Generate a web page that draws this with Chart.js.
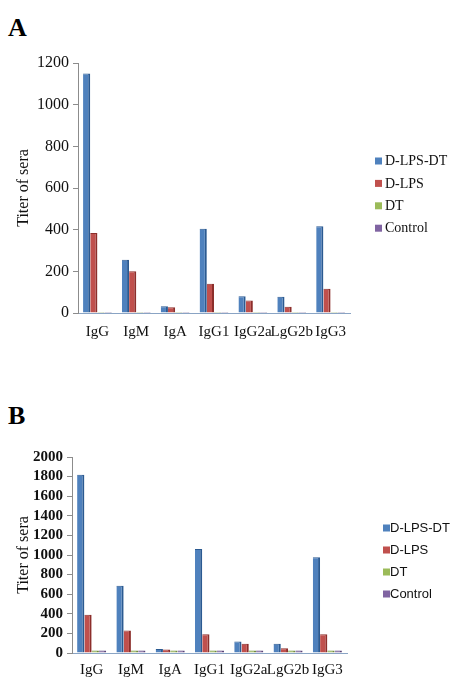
<!DOCTYPE html>
<html><head><meta charset="utf-8">
<script src="https://cdn.jsdelivr.net/npm/chart.js@4.4.0/dist/chart.umd.min.js"></script>
<style>
html,body{margin:0;padding:0;background:#fff;width:450px;height:677px;overflow:hidden;}
.panel{position:absolute;left:0;width:450px;}
.letter{position:absolute;left:8px;font-family:"Liberation Serif",serif;font-weight:bold;font-size:26px;line-height:26px;color:#000;}
</style></head><body>
<div class="letter" style="top:15px">A</div>
<div class="panel" style="top:40px;height:305px"><canvas id="cA"></canvas></div>
<div class="letter" style="top:403px">B</div>
<div class="panel" style="top:430px;height:247px"><canvas id="cB"></canvas></div>
<script>
const categories = ["IgG", "IgM", "IgA", "IgG1", "IgG2a", "LgG2b", "IgG3"];
const seriesNames = ["D-LPS-DT", "D-LPS", "DT", "Control"];

// Panel A values
const A_DLPSDT = [1150, 256, 32, 405, 80, 78, 416];
const A_DLPS   = [384, 200, 28, 140, 60, 30, 116];
const A_DT     = [5, 5, 5, 5, 5, 5, 5];
const A_Control= [5, 5, 5, 5, 5, 5, 5];
const A_ticks  = [0, 200, 400, 600, 800, 1000, 1200];

// Panel B values
const B_DLPSDT = [1820, 685, 40, 1060, 118, 95, 978];
const B_DLPS   = [390, 230, 35, 192, 95, 48, 192];
const B_DT     = [25, 25, 25, 25, 25, 25, 25];
const B_Control= [25, 25, 25, 25, 25, 25, 25];
const B_ticks  = [0, 200, 400, 600, 800, 1000, 1200, 1400, 1600, 1800, 2000];

const fills = ["#4f81bd", "#c0504d", "#9bbb59", "#8064a2"];
const edges = ["#2b5a91", "#8c2e2b", "#6f8a3c", "#5a4479"];

function makeDatasets(arrs){
  return arrs.map((d,i)=>({
    label: seriesNames[i],
    data: d,
    backgroundColor: fills[i],
    borderColor: edges[i],
    borderWidth: {top:1, right:2, left:0, bottom:0},
    borderSkipped: false,
    categoryPercentage: 0.74,
    barPercentage: 1.0
  }));
}

const sideLegend = {
  id: 'sideLegend',
  afterDraw(chart, args, o){
    const ctx = chart.ctx;
    ctx.save();
    ctx.font = o.font;
    ctx.textBaseline = 'middle';
    ctx.textAlign = 'left';
    chart.data.datasets.forEach((ds, i)=>{
      const y = o.y0 + i*o.step;
      ctx.fillStyle = ds.backgroundColor;
      ctx.fillRect(o.x, y - 3.5, 7, 7);
      ctx.fillStyle = '#111';
      ctx.fillText(ds.label, o.x + o.gap, y + 0.5);
    });
    ctx.restore();
  }
};

function makeChart(id, arrs, ticks, opt){
  return new Chart(document.getElementById(id), {
    type: 'bar',
    data: { labels: categories, datasets: makeDatasets(arrs) },
    plugins: [sideLegend],
    options: {
      responsive: true,
      maintainAspectRatio: false,
      animation: false,
      layout: { padding: opt.padding },
      plugins: {
        tooltip: {enabled:false},
        legend: { display: false },
        sideLegend: opt.legend
      },
      scales: {
        x: {
          afterFit: (s)=>{ s.height = opt.xHeight; },
          grid: { display: false },
          border: { display: true, color: '#8aa4c4', dash: [2,3], width: 1 },
          ticks: { color: '#111', padding: opt.xPad, font: { family: "'Liberation Serif', serif", size: 15 }, maxRotation: 0, autoSkip: false }
        },
        y: {
          min: 0, max: ticks[ticks.length-1],
          afterBuildTicks: (s)=>{ s.ticks = ticks.map(v=>({value:v})); },
          afterFit: (s)=>{ s.width = opt.yWidth; },
          grid: { drawOnChartArea: false, drawTicks: true, tickLength: 5, color: '#8c8c8c' },
          border: { display: true, color: '#8c8c8c', width: 1 },
          ticks: { color: '#111', padding: 4, autoSkip: false, callback: (v)=>String(v),
                   font: { family: "'Liberation Serif', serif", size: opt.ySize, weight: opt.yWeight } },
          title: { display: true, text: 'Titer of sera', color: '#111', padding: {top: 14, bottom: 0},
                   font: { family: "'Liberation Serif', serif", size: 16 } }
        }
      }
    }
  });
}

makeChart('cA', [A_DLPSDT, A_DLPS, A_DT, A_Control], A_ticks,
  {padding:{top:23, bottom:0, left:0, right:100}, yWidth:78, xHeight:32, xPad:2, ySize:16, yWeight:'normal',
   legend:{x:375, y0:121, step:22.4, gap:10, font:"14px 'Liberation Serif', serif"}});
makeChart('cB', [B_DLPSDT, B_DLPS, B_DT, B_Control], B_ticks,
  {padding:{top:27, bottom:0, left:0, right:103}, yWidth:72, xHeight:24, xPad:0, ySize:15, yWeight:'bold',
   legend:{x:383, y0:98, step:22, gap:7, font:"13px 'Liberation Sans', sans-serif"}});
</script>
</body></html>
